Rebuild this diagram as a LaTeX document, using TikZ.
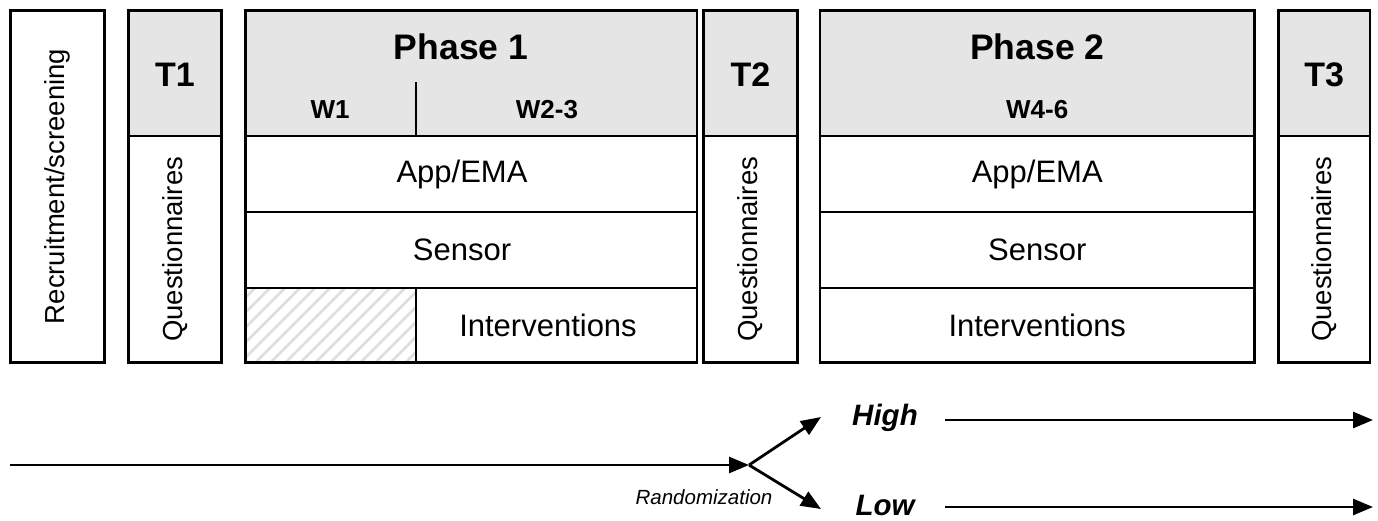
\documentclass[tikz,border=0pt]{standalone}
\usepackage{fontspec}
\setmainfont{Liberation Sans}
\usetikzlibrary{arrows.meta}
\begin{document}
\begin{tikzpicture}[x=1pt,y=-1pt,
  cell/.style={draw=black,line width=2.8pt,rectangle,inner sep=0pt,anchor=center},
  head/.style={cell,fill=black!10},
  big/.style={font=\fontsize{34}{40}\selectfont\bfseries},
  phase/.style={font=\fontsize{35.5}{42}\selectfont\bfseries},
  small/.style={font=\fontsize{26}{31}\selectfont\bfseries},
  txt/.style={font=\fontsize{31}{37}\selectfont},
  vtxt/.style={font=\fontsize{27.5}{33}\selectfont,rotate=90},
  hatchline/.style={draw=black!13,line width=2.6pt},
  arr/.style={line width=2.8pt,-{Triangle[length=20pt,width=16pt]}},
  lbl/.style={font=\fontsize{29.5}{35}\selectfont\bfseries\itshape}
]
\useasboundingbox (0,0) rectangle (1378,520);
% Recruitment
\node[cell,minimum width=94pt,minimum height=352pt] (rec) at (57.5,186.5) {};
\node[vtxt] (rect) at (57.5,186.5) {Recruitment/screening};
% T1
\node[head,minimum width=93pt,minimum height=125.5pt] (t1h) at (175,73.25) {};
\node[big] (t1t) at (175,75) {T1};
\node[cell,minimum width=93pt,minimum height=226.5pt] (t1b) at (175,249.25) {};
\node[vtxt] (t1q) at (175,249.25) {Questionnaires};
% Phase 1
\node[head,minimum width=451.5pt,minimum height=125.5pt] (p1h) at (471.25,73.25) {};
\node[phase] (p1t) at (461,47) {Phase 1};
\coordinate (w1top) at (416,82);
\coordinate (w1bot) at (416,136);
\draw[line width=2.8pt] (w1top) -- (w1bot);
\node[small] (w1) at (330,110) {W1};
\node[small] (w23) at (547,110) {W2-3};
\node[cell,minimum width=451.5pt,minimum height=76pt] (p1app) at (471.25,174) {};
\node[txt] (p1appt) at (462,174) {App/EMA};
\node[cell,minimum width=451.5pt,minimum height=76pt] (p1sen) at (471.25,250) {};
\node[txt] (p1sent) at (462,250) {Sensor};
\node[cell,minimum width=170.5pt,minimum height=74.5pt,
  path picture={\foreach \i in {-100,-85,...,200}
    \draw[hatchline] ([xshift=\i pt,yshift=-5pt]path picture bounding box.south west) -- ++(90pt,90pt);}]
  (p1hat) at (330.75,325.25) {};
\node[cell,minimum width=281pt,minimum height=74.5pt] (p1int) at (556.5,325.25) {};
\node[txt] (p1intt) at (548,325.25) {Interventions};
% T2
\node[head,minimum width=94pt,minimum height=125.5pt] (t2h) at (750.5,73.25) {};
\node[big] (t2t) at (750.5,75) {T2};
\node[cell,minimum width=94pt,minimum height=226.5pt] (t2b) at (750.5,249.25) {};
\node[vtxt] (t2q) at (750.5,249.25) {Questionnaires};
% Phase 2
\node[head,minimum width=434.5pt,minimum height=125.5pt] (p2h) at (1037.25,73.25) {};
\node[phase] (p2t) at (1037.25,47) {Phase 2};
\node[small] (w46) at (1037.25,110) {W4-6};
\node[cell,minimum width=434.5pt,minimum height=76pt] (p2app) at (1037.25,174) {};
\node[txt] (p2appt) at (1037.25,174) {App/EMA};
\node[cell,minimum width=434.5pt,minimum height=76pt] (p2sen) at (1037.25,250) {};
\node[txt] (p2sent) at (1037.25,250) {Sensor};
\node[cell,minimum width=434.5pt,minimum height=74.5pt] (p2int) at (1037.25,325.25) {};
\node[txt] (p2intt) at (1037.25,325.25) {Interventions};
% T3
\node[head,minimum width=91.5pt,minimum height=125.5pt] (t3h) at (1324.25,73.25) {};
\node[big] (t3t) at (1324.25,75) {T3};
\node[cell,minimum width=91.5pt,minimum height=226.5pt] (t3b) at (1324.25,249.25) {};
\node[vtxt] (t3q) at (1324.25,249.25) {Questionnaires};
% Timeline
\coordinate (start) at (10,465);
\coordinate (split) at (749,465);
\coordinate (hi) at (821,417);
\coordinate (lo) at (821,509);
\draw[arr] (start) -- (split);
\draw[arr] (split) -- (hi);
\draw[arr] (split) -- (lo);
\node[font=\fontsize{20.5}{25}\selectfont\itshape] (rand) at (704,497) {Randomization};
\node[lbl] (high) at (885,418) {High};
\node[lbl] (low) at (885,505) {Low};
\coordinate (his) at (945,420);
\coordinate (hie) at (1373,420);
\coordinate (los) at (945,507);
\coordinate (loe) at (1373,507);
\draw[arr] (his) -- (hie);
\draw[arr] (los) -- (loe);
\end{tikzpicture}
\end{document}
